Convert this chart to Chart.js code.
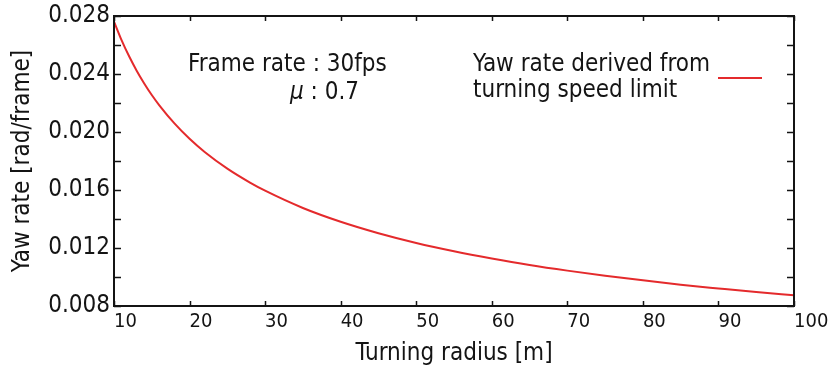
<!DOCTYPE html>
<html>
<head>
<meta charset="utf-8">
<script src="https://cdn.jsdelivr.net/npm/chart.js@4"></script>
<style>
html,body{margin:0;padding:0;background:#ffffff;}
#c{display:block;}
</style>
</head>
<body>
<canvas id="c" width="828" height="376"></canvas>
<script>
// ---- data ----
const radius = [10, 11, 12, 13, 14, 15, 16, 18, 20, 22, 25, 28, 30, 35, 40, 45, 50, 55, 60, 65, 70, 75, 80, 85, 90, 95, 100];
const yawRate = [0.02762, 0.02634, 0.02522, 0.02423, 0.02335, 0.02255, 0.02184, 0.02059, 0.01953, 0.01862, 0.01747, 0.01651, 0.01595, 0.01476, 0.01381, 0.01302, 0.01235, 0.01178, 0.01128, 0.01083, 0.01044, 0.01009, 0.00977, 0.00947, 0.00921, 0.00896, 0.00874];
const xTicks = [10, 20, 30, 40, 50, 60, 70, 80, 90, 100];
const yTicks = [0.008, 0.012, 0.016, 0.020, 0.024, 0.028];
const seriesLabel = ['Yaw rate derived from', 'turning speed limit'];
const noteLine1 = 'Frame rate : 30fps';
const noteMu = 'μ';
const noteLine2 = ' : 0.7';
const xTitle = 'Turning radius [m]';
const yTitle = 'Yaw rate [rad/frame]';

const FONT = '"Liberation Sans Narrow", "DejaVu Sans Condensed", "Liberation Sans", sans-serif';
const INK = '#141414';
const RED = '#e42a2c';

const framePlugin = {
  id: 'frame',
  afterDatasetsDraw(chart) {
    const {ctx, chartArea: a, scales: {x, y}} = chart;
    ctx.save();
    ctx.strokeStyle = INK;
    ctx.lineWidth = 1.5;
    ctx.beginPath();
    xTicks.forEach(v => {
      const px = Math.round(x.getPixelForValue(v)) + 0.5;
      ctx.moveTo(px, a.bottom); ctx.lineTo(px, a.bottom - 5);
      ctx.moveTo(px, a.top); ctx.lineTo(px, a.top + 5);
    });
    for (let i = 0; i <= 10; i++) {
      const v = yTicks[0] + i * 0.002;
      const py = Math.round(y.getPixelForValue(v)) + 0.5;
      ctx.moveTo(a.left, py); ctx.lineTo(a.left + 7, py);
      ctx.moveTo(a.right, py); ctx.lineTo(a.right - 7, py);
    }
    ctx.stroke();
    ctx.lineWidth = 2;
    ctx.strokeRect(a.left, a.top, a.right - a.left, a.bottom - a.top);

    ctx.fillStyle = INK;
    ctx.textBaseline = 'alphabetic';
    ctx.textAlign = 'left';
    ctx.font = '24px ' + FONT;
    ctx.fillText(noteLine1, 188, 71);
    ctx.font = 'italic 24px ' + FONT;
    ctx.fillText(noteMu, 290, 99);
    const muW = ctx.measureText(noteMu).width;
    ctx.font = '24px ' + FONT;
    ctx.fillText(noteLine2, 290 + muW, 99);

    const ds = chart.data.datasets[0];
    ctx.fillText(seriesLabel[0], 473, 71);
    ctx.fillText(seriesLabel[1], 473, 97);
    ctx.strokeStyle = ds.borderColor;
    ctx.lineWidth = 2;
    ctx.beginPath();
    ctx.moveTo(718, 78); ctx.lineTo(762, 78);
    ctx.stroke();
    ctx.restore();
  }
};

new Chart(document.getElementById('c'), {
  type: 'line',
  data: {
    datasets: [{
      label: seriesLabel.join(' '),
      data: radius.map((r, i) => ({x: r, y: yawRate[i]})),
      borderColor: RED,
      borderWidth: 2,
      pointRadius: 0,
      fill: false,
      cubicInterpolationMode: 'monotone'
    }]
  },
  options: {
    responsive: false,
    animation: false,
    layout: {padding: {top: 16, right: 34, left: 0, bottom: 0}},
    plugins: {legend: {display: false}, tooltip: {enabled: false}},
    scales: {
      x: {
        type: 'linear', min: 10, max: 100,
        afterBuildTicks: s => { s.ticks = xTicks.map(v => ({value: v})); },
        afterFit: s => { s.height = 70; s.paddingLeft = 0; s.paddingRight = 0; },
        grid: {display: false, drawTicks: false},
        border: {display: false},
        ticks: {align: 'start', padding: 4, color: INK, font: {family: FONT, size: 20}, maxRotation: 0, autoSkip: false,
                callback: v => String(v)},
        title: {display: true, text: xTitle, color: INK, font: {family: FONT, size: 24}, padding: {top: 0, bottom: 8}}
      },
      y: {
        type: 'linear', min: 0.008, max: 0.028,
        afterBuildTicks: s => { s.ticks = yTicks.map(v => ({value: v})); },
        afterFit: s => { s.width = 114; s.paddingTop = 0; s.paddingBottom = 0; },
        grid: {display: false, drawTicks: false},
        border: {display: false},
        ticks: {padding: 4, color: INK, font: {family: FONT, size: 24}, autoSkip: false,
                callback: v => Number(v).toFixed(3)},
        title: {display: true, text: yTitle, color: INK, font: {family: FONT, size: 24}, padding: {top: 8, bottom: 0}}
      }
    }
  },
  plugins: [framePlugin]
});
</script>
</body>
</html>
